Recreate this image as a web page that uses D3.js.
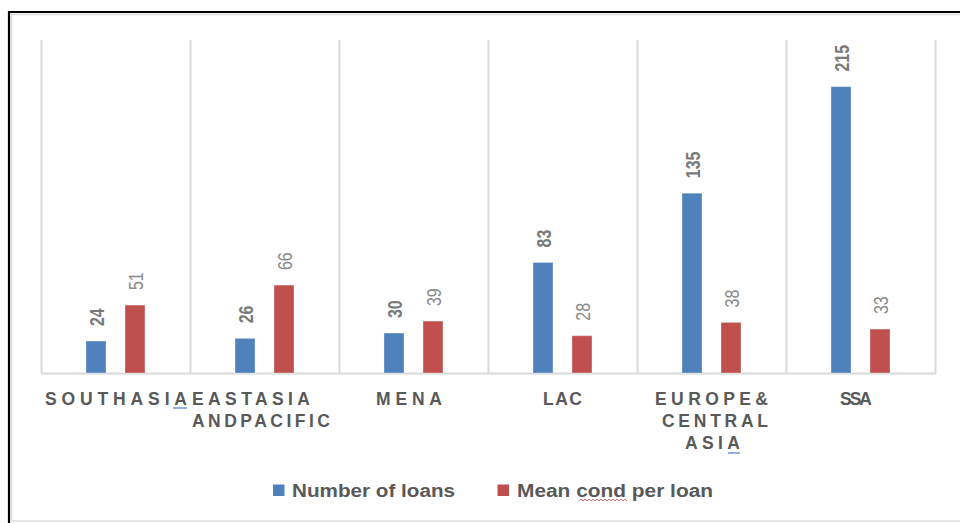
<!DOCTYPE html>
<html>
<head>
<meta charset="utf-8">
<script src="https://cdn.jsdelivr.net/npm/d3@7/dist/d3.min.js"></script>
<style>
  html, body { margin: 0; padding: 0; background: #ffffff; }
  svg { display: block; }
</style>
</head>
<body>
<svg id="chart" width="960" height="523"></svg>
<script>
// Regions and their wrapped label lines
const categories = ["SOUTH ASIA", "EAST ASIA AND PACIFIC", "MENA", "LAC", "EUROPE & CENTRAL ASIA", "SSA"];
const categoryLines = [
  ["SOUTHASIA"],
  ["EASTASIA", "ANDPACIFIC"],
  ["MENA"],
  ["LAC"],
  ["EUROPE&", "CENTRAL", "ASIA"],
  ["SSA"]
];
const seriesNames = ["Number of loans", "Mean cond per loan"];
const numberOfLoans = [24, 26, 30, 83, 135, 215];
const meanCondPerLoan = [51, 66, 39, 28, 38, 33];
const yMax = 250;

const colors = { "Number of loans": "#4F81BD", "Mean cond per loan": "#C0504D" };

const svg = d3.select("#chart");

// Frame around the chart area
svg.append("rect").attr("x", 11.5).attr("y", 14.5).attr("width", 960).attr("height", 506.5)
  .attr("fill", "none").attr("stroke", "#dedede").attr("stroke-width", 1.5);
svg.append("line").attr("x1", 8).attr("x2", 960).attr("y1", 12).attr("y2", 12)
  .attr("stroke", "#000").attr("stroke-width", 2.2);
svg.append("line").attr("x1", 9).attr("x2", 9).attr("y1", 11).attr("y2", 523)
  .attr("stroke", "#000").attr("stroke-width", 2.2);

const plotLeft = 41, plotRight = 935, plotTop = 40, baseY = 373;

const x0 = d3.scaleBand().domain(categories).range([plotLeft, plotRight]).padding(0);
const groupW = 59;
const x1 = d3.scaleBand().domain(seriesNames).range([0, groupW]).paddingInner(19 / 39).paddingOuter(0);
const y = d3.scaleLinear().domain([0, yMax]).range([baseY, plotTop]);

// Vertical category separators
const sep = categories.map(c => x0(c)).concat([plotRight]);
svg.append("g").selectAll("line").data(sep).join("line")
  .attr("x1", d => d + 0.5).attr("x2", d => d + 0.5)
  .attr("y1", plotTop).attr("y2", baseY)
  .attr("stroke", "#d9d9d9").attr("stroke-width", 2);

// Baseline
svg.append("line").attr("x1", plotLeft).attr("x2", plotRight + 1.5)
  .attr("y1", baseY + 0.5).attr("y2", baseY + 0.5)
  .attr("stroke", "#d9d9d9").attr("stroke-width", 2);

const rows = categories.map((c, i) => ({
  cat: c,
  values: [
    { key: "Number of loans", value: numberOfLoans[i] },
    { key: "Mean cond per loan", value: meanCondPerLoan[i] }
  ]
}));

const groups = svg.append("g").selectAll("g").data(rows).join("g")
  .attr("transform", d => `translate(${x0(d.cat) + (x0.bandwidth() - groupW) / 2},0)`);

groups.selectAll("rect").data(d => d.values).join("rect")
  .attr("x", d => x1(d.key))
  .attr("width", x1.bandwidth())
  .attr("y", d => y(d.value))
  .attr("height", d => y(0) - y(d.value))
  .attr("fill", d => colors[d.key])
  .attr("stroke", "rgba(255,255,255,0.35)")
  .attr("stroke-width", 1);

// Rotated value labels above each bar
groups.selectAll("text").data(d => d.values).join("text")
  .attr("transform", d => `translate(${x1(d.key) + x1.bandwidth() / 2 + 7.5},${y(d.value) - 15}) scale(1.3,1) rotate(-90)`)
  .attr("text-anchor", "start")
  .attr("font-family", "'Liberation Sans', Arial, sans-serif")
  .attr("font-size", 16)
  .attr("font-weight", d => d.key === "Number of loans" ? "bold" : "normal")
  .attr("fill", d => d.key === "Number of loans" ? "#7a7a7a" : "#8a8a8a")
  .text(d => d.value);

// Category labels, letter-spaced and wrapped
const labelSpans = [
  [[45, 187]],
  [[192, 310], [192, 330]],
  [[376, 442]],
  [[543, 582]],
  [[655, 768], [662, 768], [685, 740]],
  [[840, 872]]
];
const lineBase = [405, 427, 449];

categoryLines.forEach((lines, i) => {
  lines.forEach((txt, j) => {
    const span = labelSpans[i][j];
    svg.append("text")
      .attr("x", span[0]).attr("y", lineBase[j])
      .attr("font-family", "'Liberation Sans', Arial, sans-serif")
      .attr("font-size", 17.5).attr("font-weight", "bold")
      .attr("fill", "#595959")
      .attr("textLength", span[1] - span[0])
      .attr("lengthAdjust", "spacing")
      .text(txt);
  });
});

// Proofing marks under words
svg.append("line").attr("x1", 173).attr("x2", 187).attr("y1", 408).attr("y2", 408)
  .attr("stroke", "#6f95dc").attr("stroke-width", 1.5);
svg.append("line").attr("x1", 728).attr("x2", 740).attr("y1", 453).attr("y2", 453)
  .attr("stroke", "#6f95dc").attr("stroke-width", 1.5);

// Legend
const legendItems = [
  { key: "Number of loans", sx: 273, tx: 292, tw: 163 },
  { key: "Mean cond per loan", sx: 497.5, tx: 517, tw: 196 }
];
const legend = svg.append("g");
legend.selectAll("rect").data(legendItems).join("rect")
  .attr("x", d => d.sx).attr("y", 484.5).attr("width", 11.5).attr("height", 11.5)
  .attr("fill", d => colors[d.key]);
legend.selectAll("text").data(legendItems).join("text")
  .attr("x", d => d.tx).attr("y", 497)
  .attr("font-family", "'Liberation Sans', Arial, sans-serif")
  .attr("font-size", 18).attr("font-weight", "bold")
  .attr("fill", "#595959")
  .attr("textLength", d => d.tw)
  .attr("lengthAdjust", "spacingAndGlyphs")
  .text(d => d.key);

// Wavy spelling underline beneath "cond"
const wave = d3.range(579, 629, 2).map((px, k) => [px, k % 2 ? 499 : 501]);
svg.append("path").attr("d", d3.line()(wave))
  .attr("fill", "none").attr("stroke", "#e05050").attr("stroke-width", 0.8);
</script>
</body>
</html>
